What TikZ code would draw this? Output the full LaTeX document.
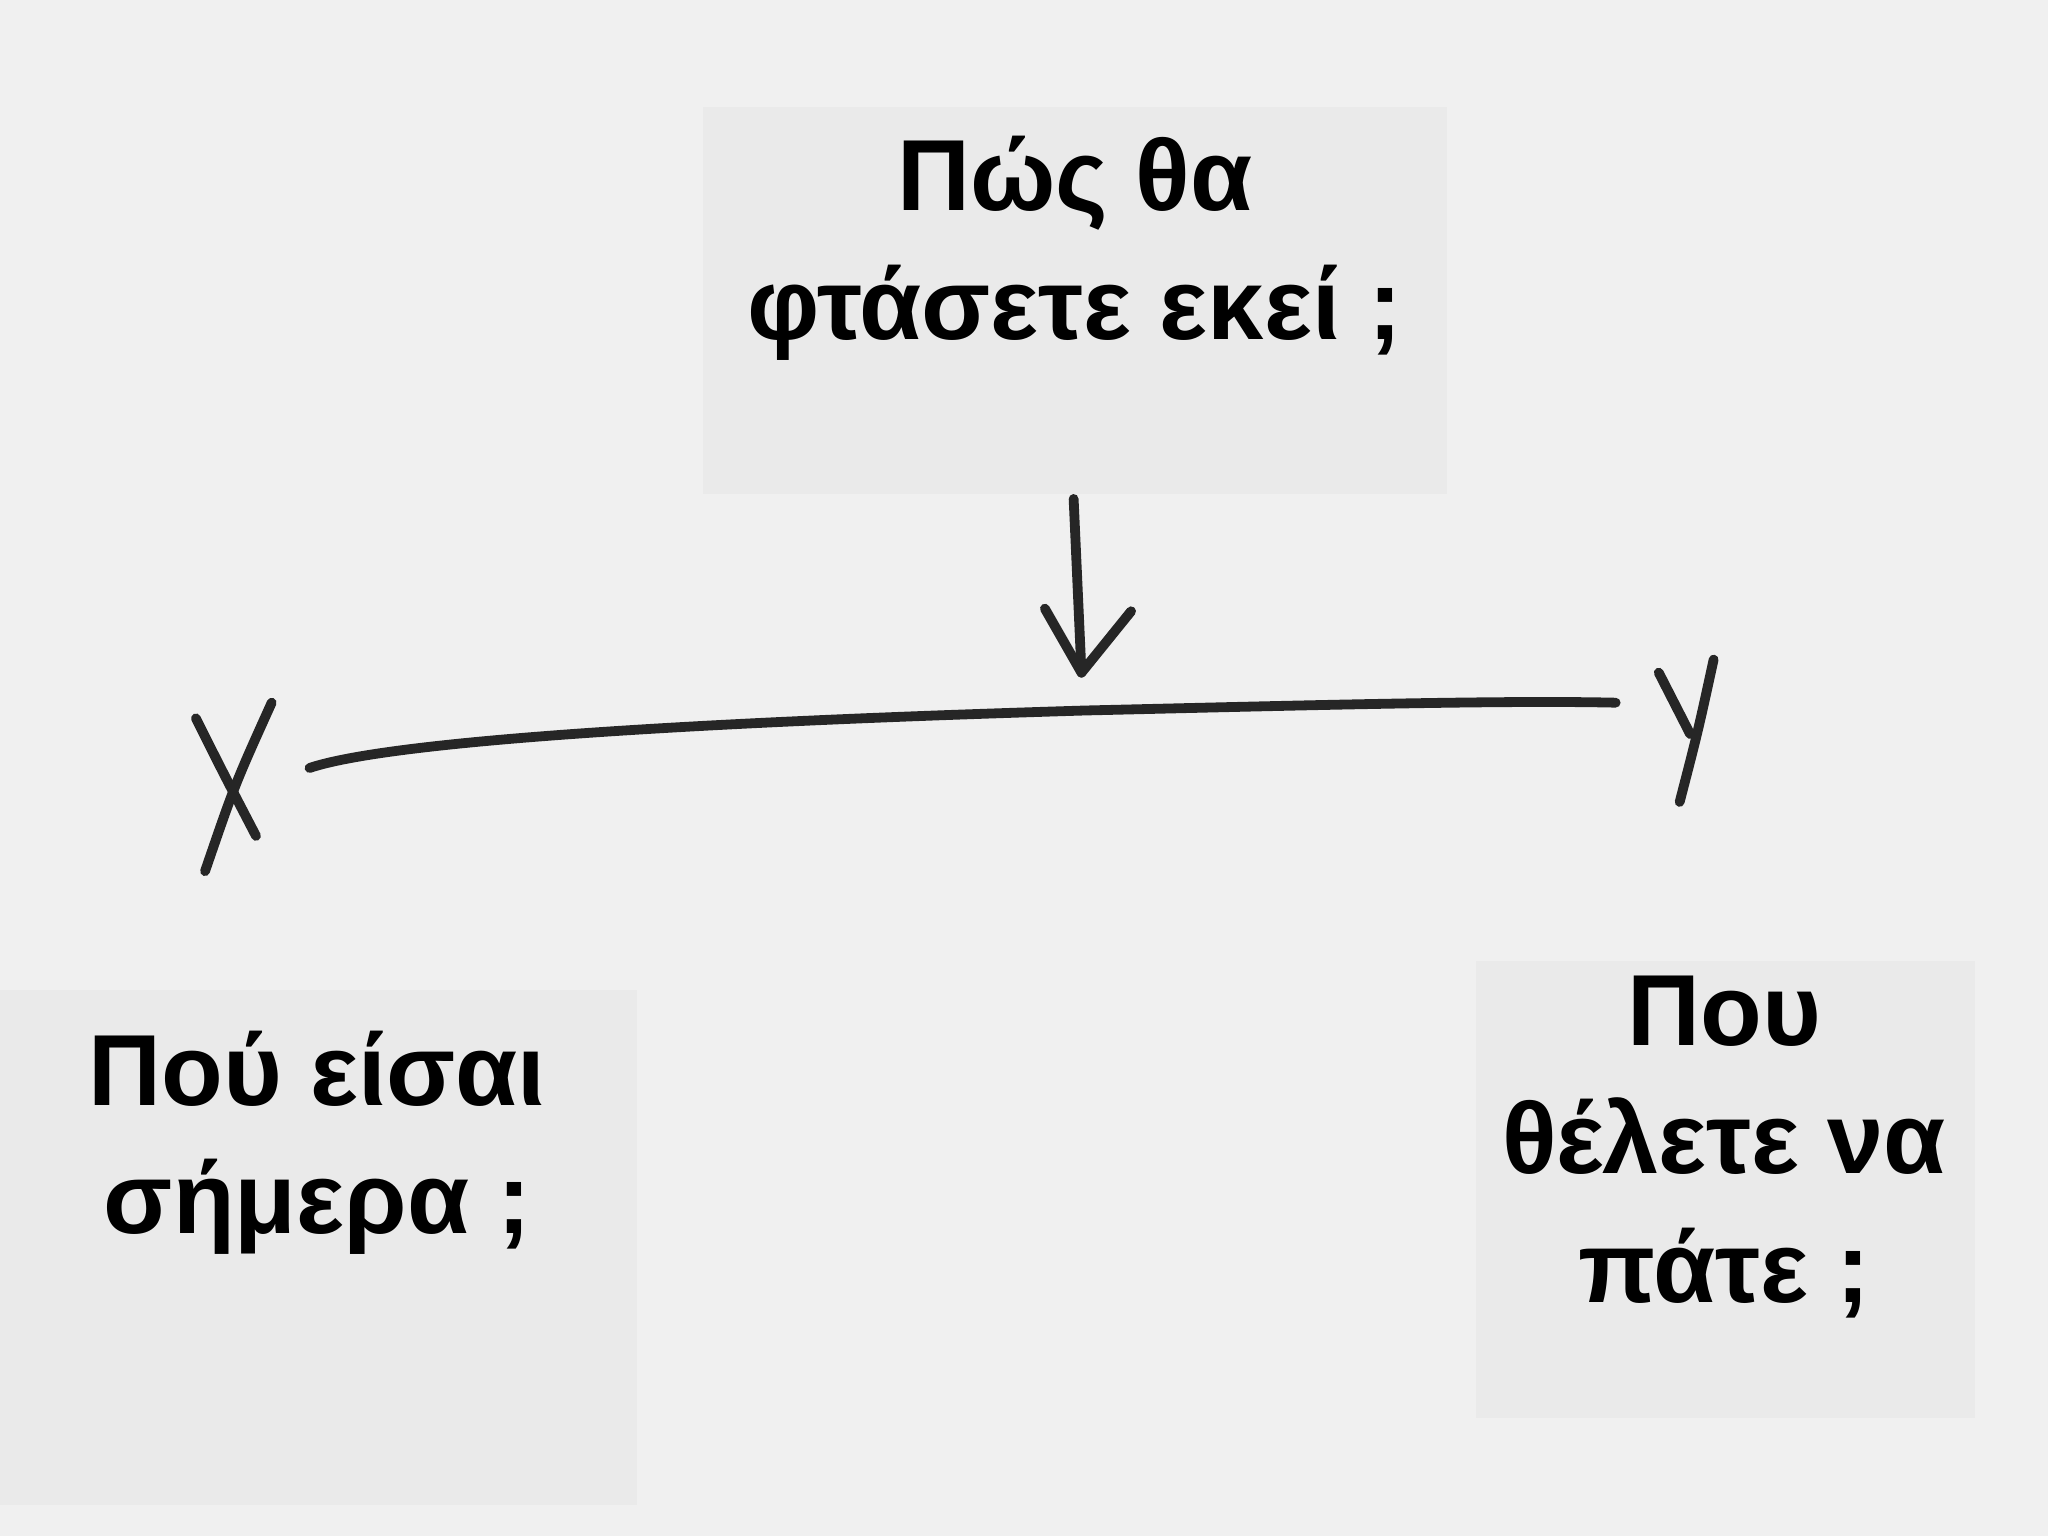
\documentclass[tikz,border=0pt]{standalone}
\usepackage{fontspec}
\setmainfont{Liberation Sans}
\begin{document}
\begin{tikzpicture}[x=0.01cm,y=-0.01cm,
  box/.style={fill=boxgray,draw=none,inner sep=0pt},
  lbl/.style={align=center,font=\bfseries\fontsize{22}{28}\selectfont},
  pen/.style={line width=0.075cm,line cap=round,line join=round,black!85}]
\definecolor{bg}{HTML}{F0F0F0}
\definecolor{boxgray}{HTML}{EAEAEA}
\useasboundingbox[fill=bg] (0,0) rectangle (1568,1176);
\fill[boxgray] (538,82) rectangle (1108,378);
\fill[boxgray] (0,758) rectangle (488,1152);
\fill[boxgray] (1130,736) rectangle (1512,1086);
\node[lbl] (top) at (823,190) {Πώς θα\\φτάσετε εκεί ;};
\node[lbl] (left) at (243,875) {Πού είσαι\\σήμερα ;};
\node[lbl] (right) at (1320,878) {Που\\θέλετε να\\πάτε ;};
\coordinate (xa) at (237,588);
\coordinate (ya) at (1237,538);
\coordinate (as) at (822,382);
\coordinate (ae) at (828,515);
\draw[pen] (150,550) .. controls (170,590) .. (196,640);
\draw[pen] (208,538) .. controls (180,600) .. (157,667);
\draw[pen] (xa) .. controls (320,560) and (700,548) .. (830,544) .. controls (1000,540) and (1150,536) .. (ya);
\draw[pen] (1270,515) -- (1294,562);
\draw[pen] (1312,505) .. controls (1300,560) .. (1286,614);
\draw[pen] (as) -- (ae);
\draw[pen] (800,466) -- (ae) -- (866,468);
\end{tikzpicture}
\end{document}
